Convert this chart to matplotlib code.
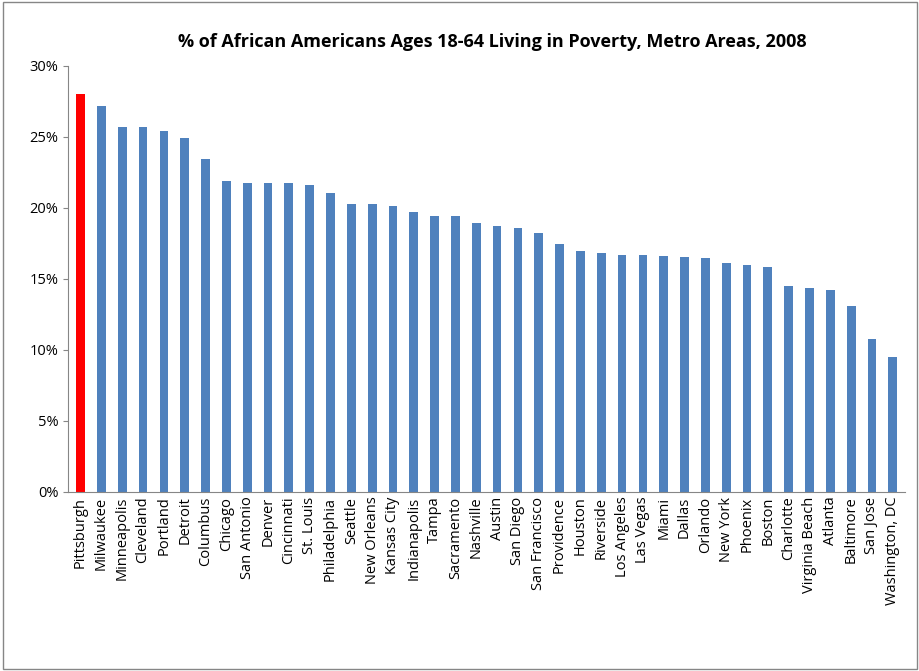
import matplotlib
matplotlib.use("Agg")
import matplotlib.pyplot as plt
from matplotlib.ticker import PercentFormatter
from matplotlib.patches import Rectangle

# Données
villes = ["Pittsburgh", "Milwaukee", "Minneapolis", "Cleveland", "Portland", "Detroit",
          "Columbus", "Chicago", "San Antonio", "Denver", "Cincinnati", "St. Louis",
          "Philadelphia", "Seattle", "New Orleans", "Kansas City", "Indianapolis", "Tampa",
          "Sacramento", "Nashville", "Austin", "San Diego", "San Francisco", "Providence",
          "Houston", "Riverside", "Los Angeles", "Las Vegas", "Miami", "Dallas", "Orlando",
          "New York", "Phoenix", "Boston", "Charlotte", "Virginia Beach", "Atlanta",
          "Baltimore", "San Jose", "Washington, DC"]
pauvrete = [28.0, 27.2, 25.7, 25.7, 25.4, 24.9, 23.4, 21.9, 21.75, 21.75, 21.75, 21.6,
            21.05, 20.3, 20.3, 20.15, 19.7, 19.4, 19.45, 18.95, 18.75, 18.6, 18.2, 17.45,
            16.95, 16.85, 16.7, 16.65, 16.6, 16.55, 16.45, 16.1, 16.0, 15.8, 14.5, 14.35,
            14.2, 13.1, 10.75, 9.5]

couleurs = ["#ff0000"] + ["#4f81bd"] * (len(villes) - 1)

plt.rcParams['font.family'] = ['Open Sans', 'DejaVu Sans']
fig = plt.figure(figsize=(9.2, 6.71), dpi=100)
ax = fig.add_axes([0.074, 0.267, 0.91, 0.635])
ax.bar(range(len(villes)), pauvrete, width=0.42, color=couleurs)

ax.set_ylim(0, 30)
ax.set_xlim(-0.6, len(villes) - 0.4)
ax.set_yticks(range(0, 31, 5))
ax.yaxis.set_major_formatter(PercentFormatter(decimals=0))
ax.set_xticks(range(len(villes)))
ax.set_xticklabels(villes, rotation=90, fontsize=10.5)
ax.tick_params(axis='y', labelsize=10.5, color="#868686")
ax.tick_params(axis='x', length=0)
for s in ["top", "right"]:
    ax.spines[s].set_visible(False)
ax.spines["left"].set_color("#868686")
ax.spines["bottom"].set_color("#868686")

fig.text(0.535, 0.93, "% of African Americans Ages 18-64 Living in Poverty, Metro Areas, 2008",
         ha="center", fontsize=13, fontweight="bold")
fig.patches.append(Rectangle((0.003, 0.003), 0.994, 0.994, transform=fig.transFigure,
                             fill=False, edgecolor="#868686", linewidth=1))

fig.savefig("out.png", dpi=100)
